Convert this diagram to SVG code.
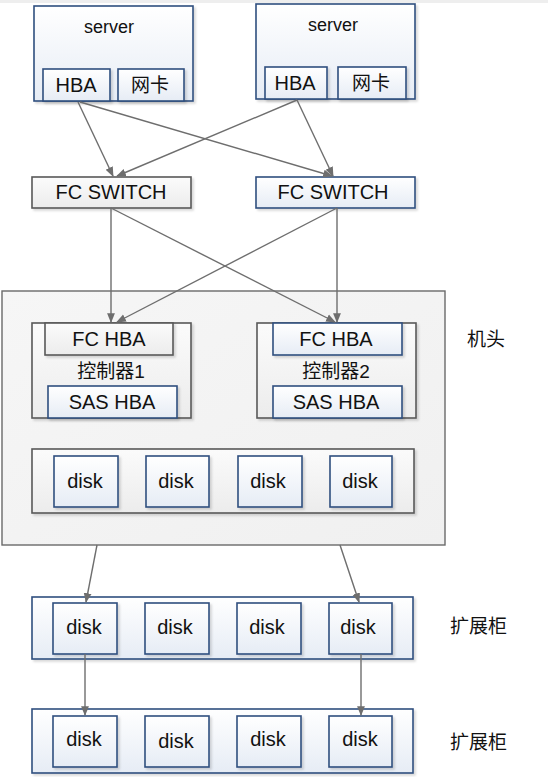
<svg xmlns="http://www.w3.org/2000/svg" width="548" height="777" viewBox="0 0 548 777">
<defs>
<linearGradient id="gb" x1="0" y1="0" x2="0" y2="1"><stop offset="0" stop-color="#ffffff"/><stop offset="1" stop-color="#e6ecf5"/></linearGradient>
<linearGradient id="gg" x1="0" y1="0" x2="0" y2="1"><stop offset="0" stop-color="#fbfbfb"/><stop offset="1" stop-color="#ececec"/></linearGradient>
<linearGradient id="gbig" x1="0" y1="0" x2="1" y2="1"><stop offset="0" stop-color="#f6f6f6"/><stop offset="1" stop-color="#f0f0f0"/></linearGradient>
<filter id="sh" x="-10%" y="-10%" width="130%" height="140%"><feDropShadow dx="2" dy="2" stdDeviation="1" flood-color="#000" flood-opacity="0.15"/></filter>
<marker id="ar" viewBox="0 0 10 10" refX="9" refY="5" markerWidth="7" markerHeight="7" orient="auto"><path d="M0,1 L10,5 L0,9 Z" fill="#6e6e6e"/></marker>
</defs>
<style>
.b{fill:url(#gb);stroke:#2f4f7f;stroke-width:1.6;filter:url(#sh)}
.g{fill:url(#gg);stroke:#595959;stroke-width:1.6;filter:url(#sh)}
.big{fill:url(#gbig);stroke:#6a6a6a;stroke-width:1.4}
.t{font-family:"Liberation Sans",Arial,sans-serif;font-size:20px;fill:#111;text-anchor:middle}
.s{font-family:"Liberation Sans",Arial,sans-serif;font-size:18px;fill:#111;text-anchor:middle}
.c{font-family:"Liberation Sans","Noto Sans CJK SC",sans-serif;font-size:19px;fill:#111;text-anchor:middle}
.l{font-family:"Noto Sans CJK SC",sans-serif;font-size:19px;fill:#111}
.e{stroke:#6e6e6e;stroke-width:1.4;fill:none;marker-end:url(#ar)}
</style>
<rect x="0" y="0" width="548" height="777" fill="#fff"/>
<rect x="0" y="0" width="548" height="3" fill="#eeeeee"/>

<g id="server1">
<rect class="b" x="34" y="6" width="159" height="95"/>
<text class="s" x="109" y="33">server</text>
<rect class="b" x="43" y="69" width="67" height="32"/>
<text class="t" x="76" y="92">HBA</text>
<rect class="b" x="118" y="69" width="66" height="32"/>
<text class="c" x="150" y="92">网卡</text>
</g>
<g id="server2">
<rect class="b" x="256" y="4" width="159" height="95"/>
<text class="s" x="333" y="31">server</text>
<rect class="b" x="265" y="67" width="62" height="32"/>
<text class="t" x="295" y="90">HBA</text>
<rect class="b" x="338" y="67" width="68" height="32"/>
<text class="c" x="371" y="90">网卡</text>
</g>
<g id="fcswitch1">
<rect class="g" x="32" y="177" width="159" height="31"/>
<text class="t" x="111" y="199">FC SWITCH</text>
</g>
<g id="fcswitch2">
<rect class="b" x="256" y="177" width="159" height="31"/>
<text class="t" x="333" y="199">FC SWITCH</text>
</g>

<g id="jitou">
<rect class="big" x="2" y="291" width="443" height="254"/>
</g>
<g id="controller1">
<rect class="g" x="32" y="323" width="159" height="95"/>
<rect class="g" x="45" y="323" width="128" height="32"/>
<text class="t" x="109" y="346">FC HBA</text>
<text class="c" x="111" y="378">控制器1</text>
<rect class="b" x="48" y="386" width="129" height="32"/>
<text class="t" x="112" y="409">SAS HBA</text>
</g>
<g id="controller2">
<rect class="g" x="257" y="323" width="159" height="95"/>
<rect class="b" x="273" y="323" width="129" height="32"/>
<text class="t" x="336" y="346">FC HBA</text>
<text class="c" x="336" y="378">控制器2</text>
<rect class="b" x="273" y="386" width="129" height="32"/>
<text class="t" x="336" y="409">SAS HBA</text>
</g>
<g id="diskgroup0">
<rect class="g" x="32" y="449" width="382" height="64"/>
<rect class="b" x="54" y="456" width="64" height="51"/><text class="t" x="85" y="488">disk</text>
<rect class="b" x="146" y="456" width="63" height="51"/><text class="t" x="176" y="488">disk</text>
<rect class="b" x="238" y="456" width="64" height="51"/><text class="t" x="268" y="488">disk</text>
<rect class="b" x="330" y="456" width="62" height="51"/><text class="t" x="360" y="488">disk</text>
</g>
<text id="label-jitou" class="l" x="467" y="346">机头</text>

<g id="expansion1">
<rect class="b" x="32" y="597" width="381" height="62"/>
<rect class="b" x="53" y="603" width="64" height="51"/><text class="t" x="84" y="634">disk</text>
<rect class="b" x="145" y="603" width="64" height="51"/><text class="t" x="175" y="634">disk</text>
<rect class="b" x="237" y="603" width="64" height="51"/><text class="t" x="267" y="634">disk</text>
<rect class="b" x="329" y="603" width="63" height="51"/><text class="t" x="358" y="634">disk</text>
</g>
<text id="label-exp1" class="l" x="450" y="633">扩展柜</text>
<g id="expansion2">
<rect class="b" x="32" y="709" width="381" height="64"/>
<rect class="b" x="53" y="716" width="64" height="51"/><text class="t" x="84" y="746">disk</text>
<rect class="b" x="145" y="716" width="64" height="51"/><text class="t" x="176" y="748">disk</text>
<rect class="b" x="237" y="716" width="64" height="51"/><text class="t" x="268" y="746">disk</text>
<rect class="b" x="329" y="716" width="63" height="51"/><text class="t" x="360" y="746">disk</text>
</g>
<text id="label-exp2" class="l" x="450" y="749">扩展柜</text>

<g id="connectors">
<line class="e" x1="78" y1="102" x2="113" y2="176"/>
<line class="e" x1="80" y1="102" x2="332" y2="176"/>
<line class="e" x1="297" y1="100" x2="117" y2="176"/>
<line class="e" x1="297" y1="100" x2="333" y2="176"/>
<line class="e" x1="111" y1="208" x2="111" y2="322"/>
<line class="e" x1="111" y1="208" x2="335" y2="322"/>
<line class="e" x1="337" y1="208" x2="337" y2="322"/>
<line class="e" x1="337" y1="208" x2="117" y2="322"/>
<line class="e" x1="97" y1="545" x2="86" y2="602"/>
<line class="e" x1="340" y1="545" x2="359" y2="602"/>
<line class="e" x1="85" y1="654" x2="85" y2="715"/>
<line class="e" x1="361" y1="654" x2="361" y2="715"/>
</g>
</svg>
